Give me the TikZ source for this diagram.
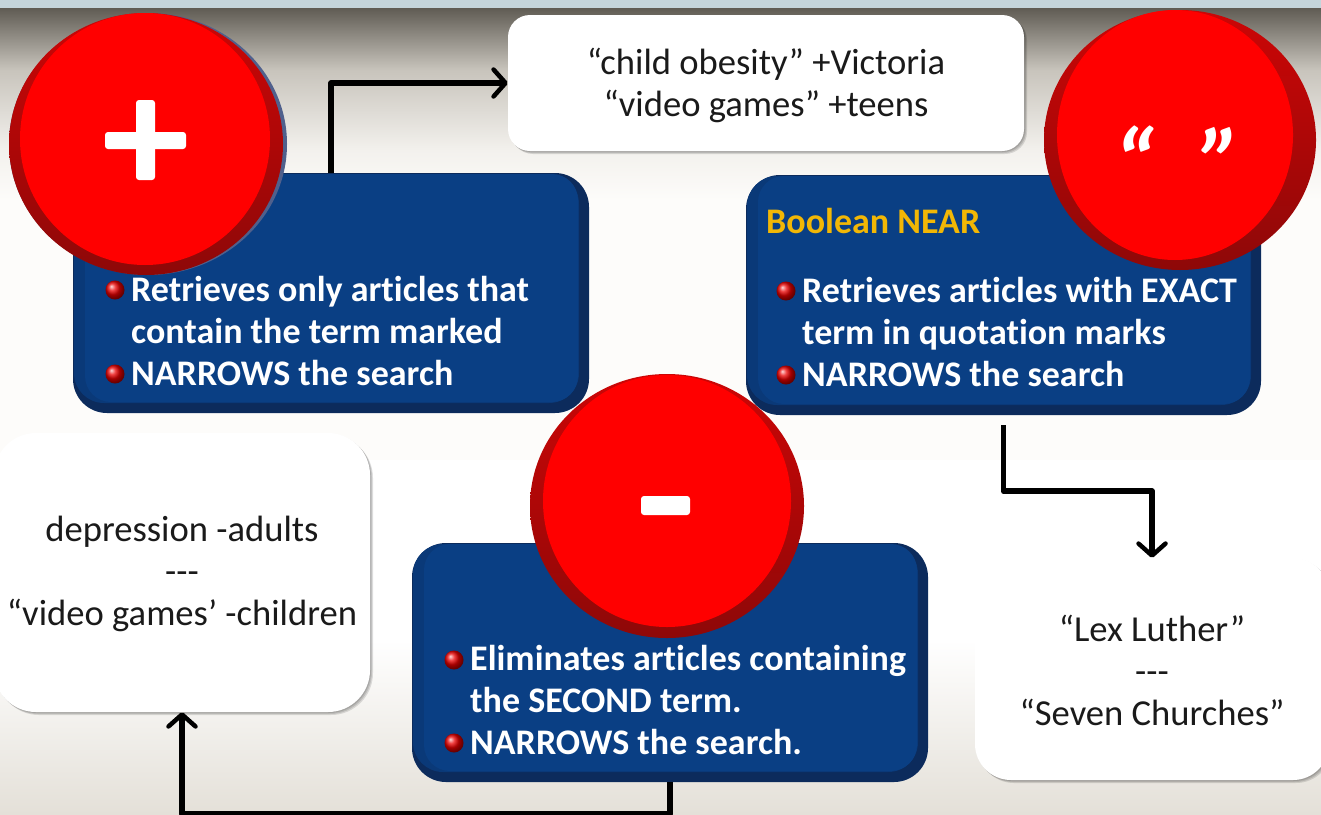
\documentclass[tikz,border=0pt]{standalone}
\usepackage{fontspec}
\setmainfont{Carlito}[Ligatures=NoCommon]
\usetikzlibrary{arrows.meta,calc,shadows}
\definecolor{bevel}{HTML}{0C2B5C}
\definecolor{midbevel}{HTML}{0A3978}
\definecolor{face}{HTML}{0A3F84}
\definecolor{rimtop}{HTML}{CC0606}
\definecolor{rimlow}{HTML}{8E0808}
\definecolor{facered}{HTML}{FF0000}
\definecolor{gold}{HTML}{F2B705}
\definecolor{inktext}{HTML}{1A1A1A}
\definecolor{haze}{HTML}{FDFCFA}
\definecolor{slateedge}{HTML}{50608C}
\newcommand{\bluebox}[5]{%
 % name, x1, y1, x2, y2
 \node[bluebase,minimum width=#4pt-#2pt,minimum height=#5pt-#3pt] (#1) at ({(#2+#4)/2},{(#3+#5)/2}) {};
 \fill[midbevel,rounded corners=30pt] ({#2+1},{#3+1}) rectangle ({#4-10},{#5-10});
 \fill[face,rounded corners=26pt] ({#2+12},{#3+1}) rectangle ({#4-11},{#5-11});
}
\newcommand{\redball}[9]{%
 % name, outer cx cy rx ry, inner cx cy rx ry
 \shade[top color=rimtop,bottom color=rimlow] (#2,#3) ellipse [x radius=#4,y radius=#5];
 \fill[facered] (#6,#7) ellipse [x radius=#8,y radius=#9];
 \coordinate (#1) at (#6,#7);
}
\tikzset{
 x=1pt,y=-1pt,
 bluebase/.style={rectangle,rounded corners=34pt,fill=bevel,draw=none,inner sep=0pt},
 softshadow/.style={
   drop shadow={shadow xshift=1pt,shadow yshift=-1pt,fill=black,opacity=.12},
   drop shadow={shadow xshift=2pt,shadow yshift=-2pt,fill=black,opacity=.12},
   drop shadow={shadow xshift=3pt,shadow yshift=-3pt,fill=black,opacity=.12}},
 whitebox/.style={rectangle,fill=white,draw=none,inner sep=0pt,align=center,
   text=inktext,font=\fontsize{36.6}{42}\selectfont,softshadow},
 arr/.style={draw=black,line width=5.5pt,line join=round,
   -{Straight Barb[length=12pt,width=27pt,line width=4.5pt,round]}},
 body/.style={anchor=north west,inner sep=0pt,align=left,text=white,
   font=\bfseries\fontsize{36}{42}\selectfont},
 head/.style={anchor=west,inner sep=0pt,text=gold,font=\bfseries\fontsize{36}{42}\selectfont},
 bullet/.style={circle,inner sep=0pt,minimum size=19pt,ball color=red!92!black,draw=none},
 glyph/.style={fill=white,rounded corners=3pt},
 quotes/.style={inner sep=0pt,text=white,font=\bfseries\itshape\fontsize{96}{96}\selectfont},
}
\begin{document}
\begin{tikzpicture}
\useasboundingbox (0,0) rectangle (1321,814);
\clip (0,0) rectangle (1321,814);
% backdrop
\fill[fill={rgb,255:red,197;green,213;blue,219}] (0,0) rectangle (1321,8);
\shade[top color={rgb,255:red,96;green,92;blue,84},bottom color={rgb,255:red,200;green,196;blue,188}] (0,8) rectangle (1321,70);
\shade[top color={rgb,255:red,200;green,196;blue,188},bottom color={rgb,255:red,243;green,241;blue,237}] (0,70) rectangle (1321,150);
\shade[top color={rgb,255:red,243;green,241;blue,237},bottom color=haze] (0,150) rectangle (1321,200);
\fill[haze] (0,200) rectangle (1321,460);
\fill[white] (0,460) rectangle (1321,640);
\shade[top color=white,bottom color={rgb,255:red,228;green,224;blue,216}] (0,640) rectangle (1321,814);
% white boxes
\node[whitebox,rounded corners=22pt,minimum width=516pt,minimum height=136pt] (w1) at (766,83) {\rule{0pt}{31pt}“child obesity” +Victoria\\“video games” +teens};
\node[whitebox,rounded corners=42pt,minimum width=376pt,minimum height=279pt] (w2) at (182,572.5) {\rule{0pt}{29pt}depression -adults\\-{}-{}-\\“video games’ -children};
\node[whitebox,rounded corners=36pt,minimum width=354pt,minimum height=222pt] (w3) at (1152,669) {\rule{0pt}{29pt}“Lex Luther”\\-{}-{}-\\“Seven Churches”};
% blue boxes
\bluebox{b1}{73}{173}{589}{413}
\bluebox{b2}{746}{175}{1261}{415}
\bluebox{b3}{412}{543}{928}{782}
% connectors
\draw[arr] (b1.north) |- (w1.west);
\draw[arr,shorten <=10pt] (b2.south) -- ++(0,76) -| (w3.north);
\draw[arr] (b3.south) -- ++(0,32) -| (w2.south);
% text in blue boxes
\node[body] (t1) at (131,276.5) {Retrieves only articles that\\contain the term marked\\NARROWS the search};
\node[bullet] (b1a) at (115,290) {};
\node[bullet] (b1b) at (115,374) {};
\node[head] (h2) at (766,221) {Boolean NEAR};
\node[body] (t2) at (802,277.5) {Retrieves articles with EXACT\\term in quotation marks\\NARROWS the search};
\node[bullet] (b2a) at (786,291) {};
\node[bullet] (b2b) at (786,375) {};
\node[body] (t3) at (470,645.5) {Eliminates articles containing\\the SECOND term.\\NARROWS the search.};
\node[bullet] (b3a) at (454,660) {};
\node[bullet] (b3b) at (454,743) {};
% red discs
\fill[slateedge] (148,144) ellipse [x radius=139,y radius=131];
\redball{r1}{146}{144}{137}{131}{145}{139}{125}{126}
\node[glyph,minimum width=19pt,minimum height=80pt,inner sep=0pt] (plusv) at (145.5,140) {};
\node[glyph,minimum width=81pt,minimum height=17pt,inner sep=0pt] (plush) at (145.5,140.5) {};
\redball{r2}{1180}{140}{136}{130}{1175}{135}{118}{125}
\node[quotes] (q) at (1178,161.5) {“\hspace{45pt}”};
\redball{r3}{667}{506}{137}{132}{667}{501}{124}{126}
\node[glyph,minimum width=49pt,minimum height=19pt,inner sep=0pt] (minus) at (665.5,505.5) {};
\end{tikzpicture}
\end{document}
